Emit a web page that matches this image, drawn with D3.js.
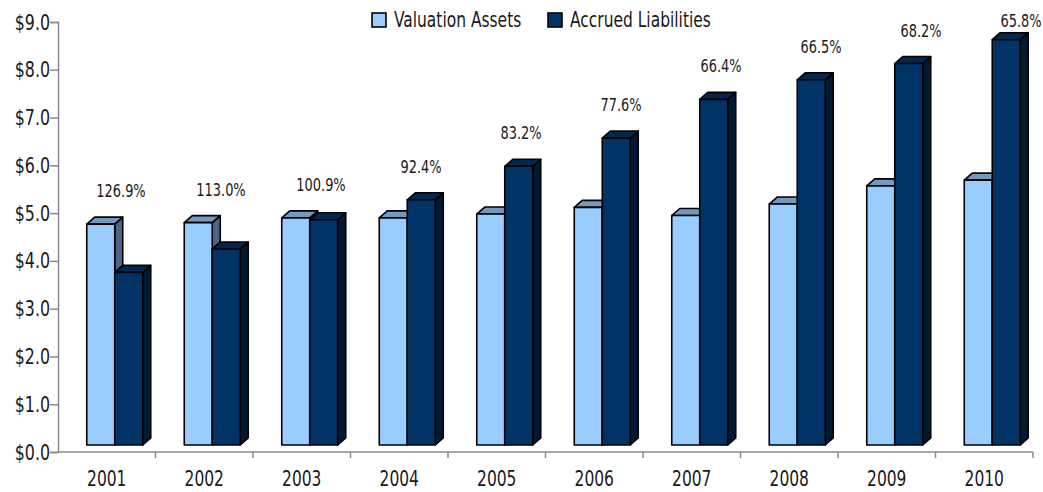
<!DOCTYPE html>
<html>
<head>
<meta charset="utf-8">
<script src="https://cdn.jsdelivr.net/npm/d3@7"></script>
<style>
  body { margin: 0; background: #fff; overflow: hidden; }
  svg { display: block; }
  svg text { font-family: "DejaVu Sans Condensed", "Liberation Sans Narrow", sans-serif; font-stretch: condensed; fill: #1a1a1a; }
</style>
</head>
<body>
<div id="chart"></div>
<script>
// data ($ billions)
const years = ['2001', '2002', '2003', '2004', '2005', '2006', '2007', '2008', '2009', '2010'];
const series = ['Valuation Assets', 'Accrued Liabilities'];
const assets = [4.77, 4.80, 4.90, 4.90, 4.98, 5.12, 4.95, 5.19, 5.57, 5.69];
const liabilities = [3.76, 4.25, 4.86, 5.28, 5.98, 6.57, 7.38, 7.79, 8.13, 8.63];
const fundedRatio = ['126.9%', '113.0%', '100.9%', '92.4%', '83.2%', '77.6%', '66.4%', '66.5%', '68.2%', '65.8%'];
const yTicks = [0, 1, 2, 3, 4, 5, 6, 7, 8, 9];

// 1. svg + margins
const W = 1043, H = 492;
const margin = { top: 22, right: 10, bottom: 40, left: 58 };
const width = 1033 - margin.left;
const height = 452 - margin.top;

const svg = d3.select('#chart')
  .append('svg')
  .attr('width', W)
  .attr('height', H);

const g = svg.append('g')
  .attr('transform', 'translate(' + margin.left + ',' + margin.top + ')');

// the reference uses a narrow face, squeeze the condensed one a bit
function placeText(sel, fx, fy, sx) {
  sel.attr('transform', (d, i) => 'translate(' + fx(d, i) + ',' + fy(d, i) + ') scale(' + sx + ',1)');
}

// 2. scales
const x0 = d3.scaleBand().domain(years).range([0, width]);
const x1 = d3.scaleBand().domain(series).range([0, 56]);
const y = d3.scaleLinear().domain([0, 9]).range([height, 0]);
const labelX = d3.scalePoint().domain(years).range([121 - margin.left, 1021 - margin.left]);

const colors = {
  'Valuation Assets': { front: '#99ccff', top: '#7399bf', side: '#4d6685' },
  'Accrued Liabilities': { front: '#003366', top: '#00284f', side: '#001a33' }
};

const depthX = 8, depthY = 7, lift = 7;

// 3. axes
const yAxis = d3.axisLeft(y).tickValues(yTicks).tickFormat(d3.format('$.1f')).tickSize(8).tickPadding(2);
const yAxisG = g.append('g').attr('class', 'y-axis').call(yAxis);
yAxisG.selectAll('text')
  .style('font-size', '22px')
  .attr('transform', 'scale(0.8,1)');

const xAxisG = g.append('g')
  .attr('class', 'x-axis')
  .attr('transform', 'translate(0,' + height + ')');
xAxisG.append('line').attr('x1', 0).attr('x2', width).attr('y1', 0).attr('y2', 0);
xAxisG.selectAll('line.tick')
  .data(years)
  .enter()
  .append('line')
  .attr('class', 'tick')
  .attr('x1', d => x0(d) + x0.bandwidth())
  .attr('x2', d => x0(d) + x0.bandwidth())
  .attr('y1', 0)
  .attr('y2', 6);
xAxisG.selectAll('text')
  .data(years)
  .enter()
  .append('text')
  .attr('text-anchor', 'middle')
  .style('font-size', '21px')
  .text(d => d)
  .call(placeText, d => x0(d) + x0.bandwidth() / 2, () => 34, 0.82);

svg.selectAll('.y-axis path, .y-axis line, .x-axis line')
  .attr('stroke', '#8a8a8a')
  .attr('stroke-width', 1.5);

// 4. bars (3D look: front, top, side)
const rows = years.map((yr, i) => ({ year: yr, values: [assets[i], liabilities[i]] }));

const groups = g.selectAll('.year')
  .data(rows)
  .enter()
  .append('g')
  .attr('class', 'year')
  .attr('transform', d => 'translate(' + (x0(d.year) + x0.bandwidth() / 2 - 20) + ',0)');

const bar = groups.selectAll('.bar')
  .data(d => d.values.map((v, k) => ({ key: series[k], value: v })))
  .enter()
  .append('g')
  .attr('class', 'bar');

const bw = x1.bandwidth();
const yb = height - lift;

bar.append('polygon')
  .attr('points', d => {
    const xl = x1(d.key), yt = y(d.value);
    return [[xl + bw, yt], [xl + bw + depthX, yt - depthY], [xl + bw + depthX, yb - depthY], [xl + bw, yb]].join(' ');
  })
  .attr('fill', d => colors[d.key].side);

bar.append('polygon')
  .attr('points', d => {
    const xl = x1(d.key), yt = y(d.value);
    return [[xl, yt], [xl + depthX, yt - depthY], [xl + bw + depthX, yt - depthY], [xl + bw, yt]].join(' ');
  })
  .attr('fill', d => colors[d.key].top);

bar.append('rect')
  .attr('x', d => x1(d.key))
  .attr('y', d => y(d.value))
  .attr('width', bw)
  .attr('height', d => yb - y(d.value))
  .attr('fill', d => colors[d.key].front);

bar.selectAll('polygon, rect')
  .attr('stroke', '#000')
  .attr('stroke-width', 1.6)
  .attr('stroke-linejoin', 'round');

// 5. funded ratio labels
g.selectAll('.ratio')
  .data(rows)
  .enter()
  .append('text')
  .attr('class', 'ratio')
  .attr('text-anchor', 'middle')
  .style('font-size', '18px')
  .text((d, i) => fundedRatio[i])
  .call(placeText, d => labelX(d.year), d => Math.max(y(d3.max(d.values)) - 34, -2) + 7, 0.8);

// 6. legend
const legend = svg.append('g').attr('class', 'legend');
const legendX = [372, 548];
series.forEach((s, k) => {
  legend.append('rect')
    .attr('x', legendX[k])
    .attr('y', 13)
    .attr('width', 14)
    .attr('height', 14)
    .attr('fill', colors[s].front)
    .attr('stroke', '#000')
    .attr('stroke-width', 1.6);
  legend.append('text')
    .datum(s)
    .style('font-size', '21px')
    .text(s)
    .call(placeText, () => legendX[k] + 22, () => 27, 0.82);
});
</script>
</body>
</html>
